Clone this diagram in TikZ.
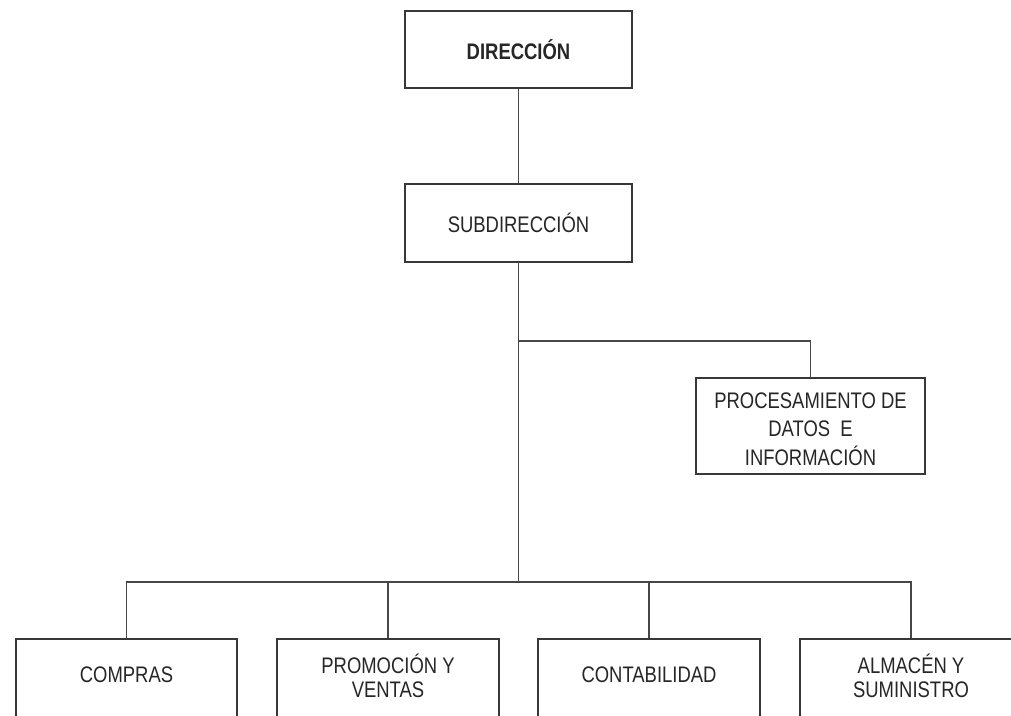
\documentclass[tikz,border=0pt]{standalone}
\usepackage{fontspec}
\setmainfont{Liberation Sans}[FakeStretch=0.82]
\begin{document}
\begin{tikzpicture}[x=1pt,y=-1pt,
  unitbox/.style={draw=black!78, line width=1.2pt, fill=white, align=center,
    inner sep=0pt, text=black!85, font=\fontsize{22.5}{28}\selectfont},
  deptbox/.style={unitbox, minimum width=222pt, minimum height=100pt},
  boxtext/.style={align=center, inner sep=0pt, text=black!85,
    font=\fontsize{22.5}{28.5}\selectfont},
  depttext/.style={boxtext, font=\fontsize{22.5}{24.5}\selectfont},
  link/.style={draw=black!72, line width=1.1pt}]
  \useasboundingbox (0,0) rectangle (1011,715);
  \clip (0,0) rectangle (1011,715);

  % top levels
  \node[unitbox, minimum width=227pt, minimum height=77pt] (dir) at (518.5,49.5) {\textbf{DIRECCIÓN}};
  \node[unitbox, minimum width=227pt, minimum height=78pt] (sub) at (518.5,223) {SUBDIRECCIÓN};

  % staff unit on the right
  \node[unitbox, minimum width=229pt, minimum height=96pt,
    label={[boxtext, name=proct, yshift=-3pt]center:PROCESAMIENTO DE\\DATOS~~E\\INFORMACIÓN}]
    (proc) at (810.5,426) {};

  % operating departments (run past the lower edge)
  \node[deptbox, minimum width=221pt,
    label={[depttext, name=comprast, yshift=14pt]center:COMPRAS}] (compras) at (126.5,689) {};
  \node[deptbox,
    label={[depttext, name=promot, yshift=13pt]center:PROMOCIÓN Y\\VENTAS}] (promo) at (388,689) {};
  \node[deptbox,
    label={[depttext, name=contat, yshift=14pt]center:CONTABILIDAD}] (conta) at (649,689) {};
  \node[deptbox,
    label={[depttext, name=almat, yshift=13pt]center:ALMACÉN Y\\SUMINISTRO}] (alma) at (911,689) {};

  % junction points on the main trunk
  \coordinate (pj) at (518.5,341);
  \coordinate (bj) at (518.5,582);

  % connectors
  \draw[link] (dir.south) -- (sub.north);
  \draw[link] (sub.south) -- (bj);
  \draw[link] (pj) -| (proc.north);
  \draw[link] (compras.north) |- (bj) -| (alma.north);
  \draw[link] (promo.north) -- (promo.north |- bj);
  \draw[link] (conta.north) -- (conta.north |- bj);
\end{tikzpicture}
\end{document}
